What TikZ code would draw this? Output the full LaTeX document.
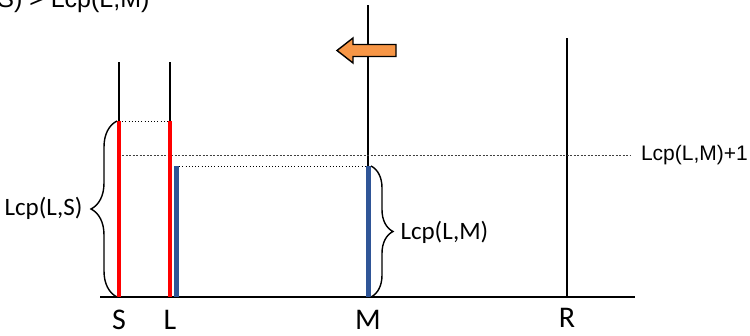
\documentclass[tikz,border=0pt]{standalone}
\usepackage{fontspec}
\setmainfont{Carlito}
\newfontfamily\arialfont{Liberation Sans}
\usetikzlibrary{decorations.pathreplacing}
\definecolor{lcpred}{HTML}{FF0000}
\definecolor{lcpblue}{HTML}{2F5597}
\definecolor{shiftorange}{HTML}{F79646}

\begin{document}
\begin{tikzpicture}[
  x=1pt,y=1pt,
  axis/.style={line width=1.4pt},
  redseg/.style={line width=4.5pt,draw=lcpred},
  blueseg/.style={line width=5pt,draw=lcpblue},
  guide/.style={line width=0.8pt,dash pattern=on 0.8pt off 2.4pt},
  level/.style={line width=0.5pt,dash pattern=on 2pt off 1.5pt,draw=black!75},
  lbl/.style={font=\fontsize{25}{30}\selectfont},
  poslbl/.style={font=\fontsize{30}{34}\selectfont,anchor=base,inner sep=0pt},
  lcpbrace/.style={decorate,decoration={brace,amplitude=#1},line width=1.4pt},
]
\clip (0,0) rectangle (750,335);
% suffix positions on the axis
\coordinate (axL) at (100,38);
\coordinate (axR) at (635,38);
\coordinate (S0) at (119,38);  \coordinate (S1) at (119,273); \coordinate (Sr) at (119,214);
\coordinate (L0) at (170,38);  \coordinate (L1) at (170,273); \coordinate (Lr) at (170,214);
\coordinate (Lb0) at (176,38); \coordinate (Lb) at (176,169);
\coordinate (M0) at (368,38);  \coordinate (M1) at (368,330); \coordinate (Mb) at (368,169);
\coordinate (R0) at (567,38);  \coordinate (R1) at (567,297);
\coordinate (lvA) at (122,180); \coordinate (lvB) at (630,180);
% axis and the four pointers
\draw[axis] (axL) -- (axR);
\draw[axis] (S0) -- (S1);
\draw[axis] (L0) -- (L1);
\draw[axis] (M0) -- (M1);
\draw[axis] (R0) -- (R1);
% guide lines
\draw[guide] (Sr) -- (Lr);
\draw[guide] (Lb) -- (Mb);
\draw[level] (lvA) -- (lvB);
% lcp segments
\draw[redseg] (S0) -- (Sr);
\draw[redseg] (L0) -- (Lr);
\draw[blueseg] (Lb0) -- (Lb);
\draw[blueseg] (M0) -- (Mb);
% braces
\draw[lcpbrace=26] (117,38) -- (117,214);
\draw[lcpbrace=22] (371,169) -- (371,38);
\node[lbl,anchor=east] (lcpLS) at (86,127) {Lcp(L,S)};
\node[lbl,anchor=west] (lcpLM) at (397,103) {Lcp(L,M)};
\node[anchor=east,inner sep=0pt,font=\arialfont\fontsize{21}{25}\selectfont] (lcpLM1) at (748,180) {Lcp(L,M)+1};
% moving M to the left
\draw[line width=1.4pt,fill=shiftorange,line join=miter]
  (337,284.5) -- (353,297) -- (353,290.5) -- (396,290.5) -- (396,278.5)
  -- (353,278.5) -- (353,272) -- cycle;
% names below the axis
\node[poslbl] (nS) at (119,6) {S};
\node[poslbl] (nL) at (170,6) {L};
\node[poslbl] (nM) at (368,6) {M};
\node[poslbl] (nR) at (567,8) {R};
% condition, cut at the top left
\node[anchor=base east,font=\arialfont\fontsize{25}{30}\selectfont] (cond) at (153,327) {Lcp(L,S) > Lcp(L,M)};
\end{tikzpicture}
\end{document}
